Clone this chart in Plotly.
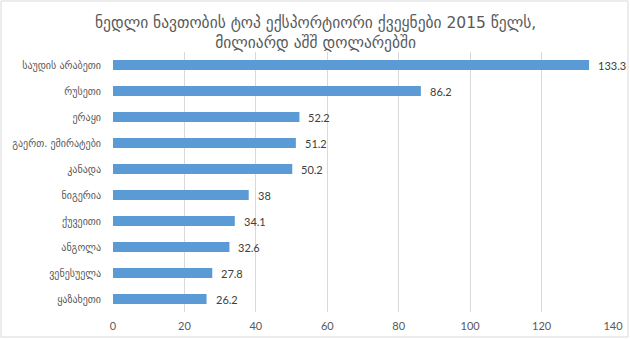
import plotly.graph_objects as go

countries = ["საუდის არაბეთი", "რუსეთი", "ერაყი", "გაერთ. ემირატები", "კანადა",
             "ნიგერია", "ქუვეითი", "ანგოლა", "ვენესუელა", "ყაზახეთი"]
values = [133.3, 86.2, 52.2, 51.2, 50.2, 38, 34.1, 32.6, 27.8, 26.2]
x_ticks = [0, 20, 40, 60, 80, 100, 120, 140]
title_lines = ["ნედლი ნავთობის ტოპ ექსპორტიორი ქვეყნები 2015 წელს,", "მილიარდ აშშ დოლარებში"]

FONT = "Lato, 'DejaVu Sans', sans-serif"
W, H = 630, 339
ML, MR, MT, MB = 113, 17, 52, 27
pw = W - ML - MR
ph = H - MT - MB

fig = go.Figure()
fig.add_trace(go.Bar(
    x=values, y=countries, orientation="h",
    marker=dict(color="#5B9BD5", line=dict(width=0)),
    hoverinfo="x+y",
))

for c, v in zip(countries, values):
    fig.add_annotation(x=v, y=c, text=f"{v:g}", showarrow=False, xanchor="left",
                       xshift=7, font=dict(family=FONT, size=11, color="#404040"))

# title as annotation for precise placement
fig.add_annotation(xref="paper", yref="paper", x=(W / 2 - ML) / pw, y=1 + (MT - 33) / ph,
                   xanchor="center", yanchor="middle", showarrow=False,
                   text="<br>".join(title_lines),
                   font=dict(family="'DejaVu Sans', sans-serif", size=15.5, color="#595959"))

# outer chart border
fig.add_shape(type="rect", xref="paper", yref="paper",
              x0=(1 - ML) / pw, x1=(W - 2 - ML) / pw,
              y0=-(H - 2 - MT - ph) / ph, y1=1 + (MT - 1) / ph,
              line=dict(color="#D9D9D9", width=1), fillcolor="rgba(0,0,0,0)", layer="below")

fig.update_layout(
    width=W, height=H,
    margin=dict(l=ML, r=MR, t=MT, b=MB, autoexpand=False),
    paper_bgcolor="white", plot_bgcolor="white",
    bargap=0.62,
    showlegend=False,
    xaxis=dict(range=[0, 140], tickvals=x_ticks, showgrid=True, gridcolor="#D9D9D9",
               gridwidth=1, zeroline=False, showline=False, ticks="outside",
               ticklen=4, tickcolor="rgba(0,0,0,0)", automargin=False,
               tickfont=dict(family=FONT, size=11, color="#595959"),
               fixedrange=True),
    yaxis=dict(autorange="reversed", showgrid=False, showline=False, ticks="",
               ticklabelstandoff=11, automargin=False,
               tickfont=dict(family="'DejaVu Sans', sans-serif", size=10, color="#595959"),
               fixedrange=True),
    font=dict(family=FONT),
)

fig.write_html("out.html")
